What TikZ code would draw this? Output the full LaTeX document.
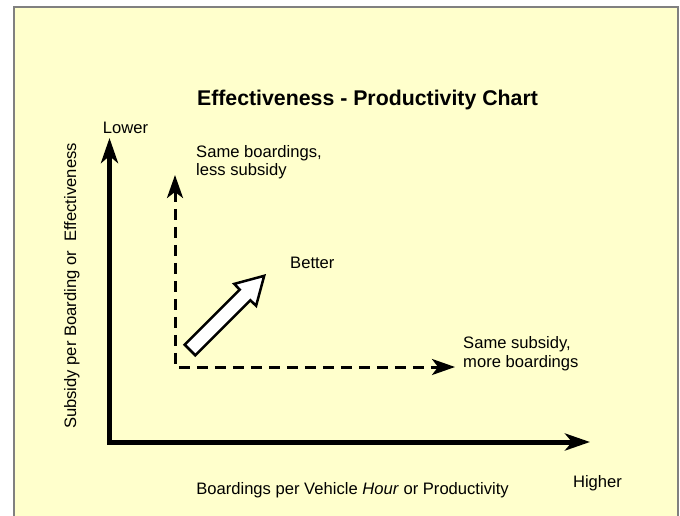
\documentclass[tikz,border=0pt]{standalone}
\usepackage{fontspec}
\setmainfont{Liberation Sans}
\usetikzlibrary{arrows.meta}
\definecolor{panelfill}{HTML}{FFFFCC}
\definecolor{panelline}{HTML}{808080}
\tikzset{
  axisline/.style={line width=5pt, line join=miter,
    {Stealth[length=25pt,width=17pt,inset=7pt]}-{Stealth[length=25pt,width=17pt,inset=7pt]}},
  dashline/.style={line width=3pt, line join=miter, dash pattern=on 11pt off 7pt,
    {Stealth[length=23pt,width=16pt,inset=6pt]}-{Stealth[length=23pt,width=16pt,inset=6pt]}},
  lbl/.style={inner sep=0pt, font=\fontsize{16.6}{18.5}\selectfont},
  ttl/.style={inner sep=0pt, font=\fontsize{21.3}{24}\selectfont\bfseries},
  blockarrow/.style={draw=black, fill=white, line width=2.5pt, line join=miter},
}
\begin{document}
\begin{tikzpicture}[x=1pt,y=-1pt]
\useasboundingbox (0,0) rectangle (680,515);
% panel
\fill[panelfill] (14,7) rectangle (678,530);
\draw[panelline, line width=2pt] (14,530) -- (14,7) -- (678,7) -- (678,530);

% title
\node[ttl, anchor=base] (title) at (367.5,105) {Effectiveness - Productivity Chart};

% axes
\coordinate (ytip) at (109.5,138);
\coordinate (origin) at (109.5,442);
\coordinate (xtip) at (590,442);
\draw[axisline] (ytip) -- (origin) -- (xtip);

% dashed lines
\coordinate (vtip) at (175,175);
\coordinate (dcorner) at (175,367);
\coordinate (htip) at (455,367);
\draw[dashline] (vtip) -- (dcorner) -- (htip);

% block arrow "Better"
\draw[blockarrow] (184.7,344.7) -- (239.8,289.6) -- (234.2,283.9) -- (264.2,275.8)
  -- (256.1,305.8) -- (250.4,300.2) -- (195.3,355.3) -- cycle;

% labels
\node[lbl, anchor=base] (lower) at (125.5,133) {Lower};
\node[lbl, anchor=base] (higher) at (597.5,487) {Higher};
\node[lbl, anchor=base west, align=left] (sameb) at (196,175.5) {Same boardings,\\less subsidy};
\node[lbl, anchor=base west] (better) at (290,268) {Better};
\node[lbl, anchor=base west, align=left] (sames) at (463,367) {Same subsidy,\\more boardings};
\node[lbl, anchor=base] (xlabel) at (352.5,494) {Boardings per Vehicle \textit{Hour} or Productivity};
\node[lbl, anchor=base, rotate=90] (ylabel) at (76,286) {Subsidy per Boarding or~ Effectiveness};
\end{tikzpicture}
\end{document}
